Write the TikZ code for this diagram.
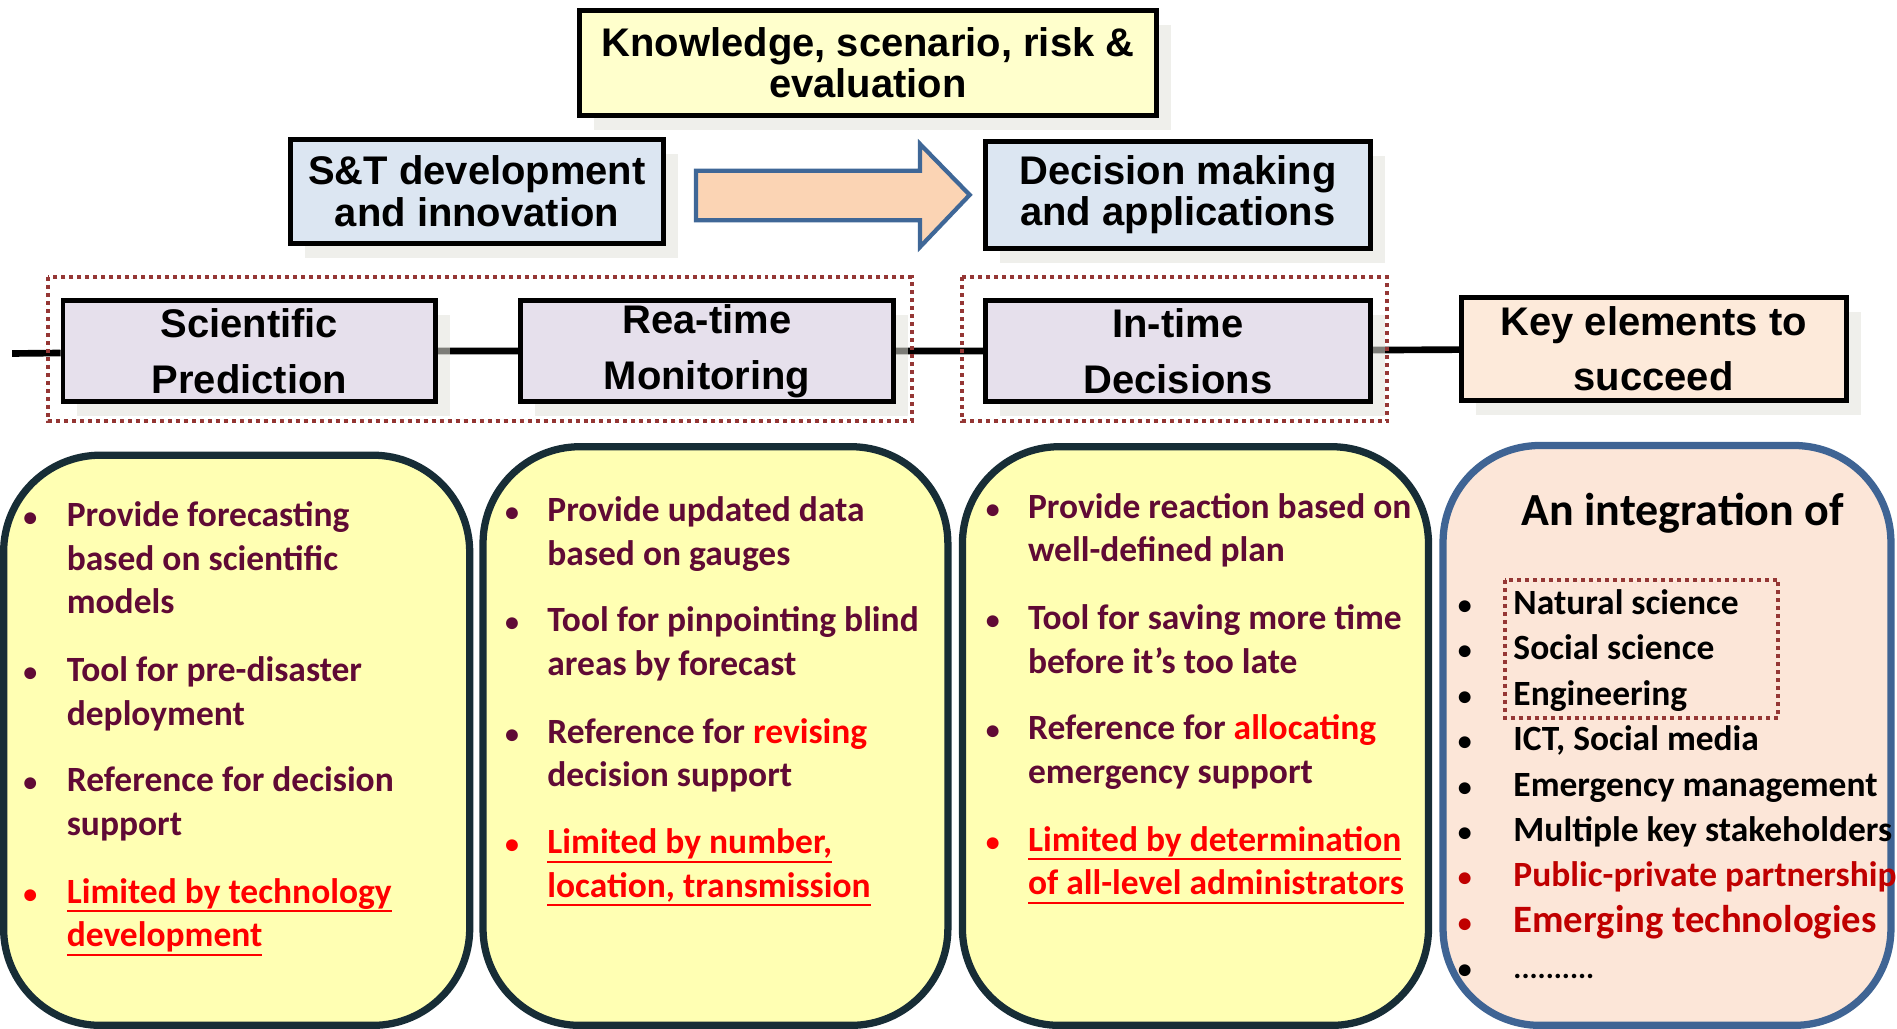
\documentclass[tikz,border=0pt]{standalone}
\usepackage{fontspec}
\setmainfont{Carlito}
\newfontfamily\headfont{Liberation Sans}
\usetikzlibrary{shadows,backgrounds}

\definecolor{knowfill}{HTML}{FFFFCC}
\definecolor{bluefill}{HTML}{DCE6F2}
\definecolor{procfill}{HTML}{E6E0EC}
\definecolor{keyfill}{HTML}{FDEADA}
\definecolor{arrowfill}{HTML}{FBD4B4}
\definecolor{arrowline}{HTML}{3F6797}
\definecolor{dotred}{HTML}{953735}
\definecolor{colfill}{HTML}{FFFFB3}
\definecolor{colline}{HTML}{172D36}
\definecolor{keycolfill}{HTML}{FCE6D8}
\definecolor{keycolline}{HTML}{3F6494}
\definecolor{maroon}{HTML}{600A35}
\definecolor{darkred}{HTML}{C00000}
\definecolor{shadowgray}{HTML}{E2E2DA}

\newcommand{\redunder}[1]{\setbox0\hbox{#1}\rlap{\rule[-7.5pt]{\wd0}{1.6pt}}\box0}
\newcommand{\itemlines}[1]{\begin{tabular}[t]{@{}l@{}}#1\end{tabular}}

\tikzset{
  headbox/.style={draw=black, line width=4pt, inner sep=0pt, align=center,
    font=\headfont\bfseries\fontsize{33}{34}\selectfont,
    drop shadow={shadow xshift=12pt, shadow yshift=-12pt, fill=shadowgray, opacity=0.55}},
  procbox/.style={headbox, fill=procfill, minimum height=84pt,
    font=\headfont\bfseries\fontsize{33}{46}\selectfont},
  colbox/.style={rounded corners=80pt, line width=6pt, inner sep=0pt},
  dotbox/.style={draw=dotred, line width=3.3pt, dash pattern=on 3.3pt off 3.3pt},
  bigarrow/.style={fill=arrowfill, draw=arrowline, line width=3.5pt, line join=miter},
  mainline/.style={black, line width=5.5pt},
  itemtext/.style={anchor=base west, inner sep=0pt, text=maroon,
    font=\bfseries\fontsize{29.3}{36}\selectfont},
  dot/.style={anchor=base, inner sep=0pt, text=maroon,
    font=\bfseries\fontsize{23}{36}\selectfont},
  keytext/.style={itemtext, text=black},
  keydot/.style={dot, text=black}
}

\begin{document}
\begin{tikzpicture}[x=1pt, y=-1pt]

\useasboundingbox (0,0) rectangle (1567,850);

% top row
\node[headbox, fill=knowfill, minimum width=476pt, minimum height=87pt] (know) at (717,52) {Knowledge, scenario, risk \&\\evaluation};
\node[headbox, fill=bluefill, minimum width=308pt, minimum height=86pt] (st) at (394,158) {S\&T development\\and innovation};
\node[headbox, fill=bluefill, minimum width=318pt, minimum height=88pt] (dm) at (973,161) {Decision making\\and applications};
\draw[bigarrow] (575,141) -- (760,141) -- (760,119) -- (801,161) -- (760,204) -- (760,182) -- (575,182) -- cycle;

% chain
\coordinate (lstart) at (10,292);
\node[procbox, minimum width=308pt] (sp) at (206,290) {Scientific\\Prediction};
\node[procbox, minimum width=308pt] (rt) at (584,290) {Rea-time\\Monitoring};
\node[procbox, minimum width=318pt] (it) at (973,290) {In-time\\Decisions};
\node[procbox, fill=keyfill, minimum width=318pt, minimum height=85pt] (key) at (1366,288) {Key elements to\\succeed};

\draw[dotbox] (40,229) rectangle (753,348);
\draw[dotbox] (795,229) rectangle (1146,348);

% columns
\node[colbox, draw=colline, fill=colfill, minimum width=385pt, minimum height=471pt] (col1) at (195.5,611.5) {};
\node[colbox, draw=colline, fill=colfill, minimum width=384pt, minimum height=478pt] (col2) at (591,608) {};
\node[colbox, draw=colline, fill=colfill, minimum width=385pt, minimum height=478pt] (col3) at (987.5,608) {};
\node[colbox, draw=keycolline, fill=keycolfill, minimum width=370pt, minimum height=479pt] (col4) at (1377,607.5) {};

% column 1
\node[dot] (d11) at (25,435) {•};
\node[itemtext] (t11) at (55,435) {\itemlines{Provide forecasting\\based on scientific\\models}};
\node[dot] (d12) at (25,563) {•};
\node[itemtext] (t12) at (55,563) {\itemlines{Tool for pre-disaster\\deployment}};
\node[dot] (d13) at (25,654) {•};
\node[itemtext] (t13) at (55,654) {\itemlines{Reference for decision\\support}};
\node[dot, text=red] (d14) at (25,746) {•};
\node[itemtext, text=red] (t14) at (55,746) {\itemlines{\redunder{Limited by technology}\\\redunder{development}}};

% column 2
\node[dot] (d21) at (423,431) {•};
\node[itemtext] (t21) at (452,431) {\itemlines{Provide updated data\\based on gauges}};
\node[dot] (d22) at (423,522) {•};
\node[itemtext] (t22) at (452,522) {\itemlines{Tool for pinpointing blind\\areas by forecast}};
\node[dot] (d23) at (423,614) {•};
\node[itemtext] (t23) at (452,614) {\itemlines{Reference for \textcolor{red}{revising}\\decision support}};
\node[dot, text=red] (d24) at (423,705) {•};
\node[itemtext, text=red] (t24) at (452,705) {\itemlines{\redunder{Limited by number,}\\\redunder{location, transmission}}};

% column 3
\node[dot] (d31) at (820,428) {•};
\node[itemtext] (t31) at (849,428) {\itemlines{Provide reaction based on\\well-defined plan}};
\node[dot] (d32) at (820,520) {•};
\node[itemtext] (t32) at (849,520) {\itemlines{Tool for saving more time\\before it’s too late}};
\node[dot] (d33) at (820,611) {•};
\node[itemtext] (t33) at (849,611) {\itemlines{Reference for \textcolor{red}{allocating}\\emergency support}};
\node[dot, text=red] (d34) at (820,703) {•};
\node[itemtext, text=red] (t34) at (849,703) {\itemlines{\redunder{Limited by determination}\\\redunder{of all-level administrators}}};

% column 4
\node[anchor=base, inner sep=0pt, font=\bfseries\fontsize{38}{40}\selectfont] (integ) at (1390,434) {An integration of};
\node[keydot] (d41) at (1210,508) {•};
\node[keytext] (t41) at (1250,508) {Natural science};
\node[keydot] (d42) at (1210,545) {•};
\node[keytext] (t42) at (1250,545) {Social science};
\node[keydot] (d43) at (1210,583) {•};
\node[keytext] (t43) at (1250,583) {Engineering};
\node[keydot] (d44) at (1210,620) {•};
\node[keytext] (t44) at (1250,620) {ICT, Social media};
\node[keydot] (d45) at (1210,658) {•};
\node[keytext] (t45) at (1250,658) {Emergency management};
\node[keydot] (d46) at (1210,695) {•};
\node[keytext] (t46) at (1250,695) {Multiple key stakeholders};
\node[keydot, text=darkred] (d47) at (1210,732) {•};
\node[keytext, text=darkred] (t47) at (1250,732) {Public-private partnership};
\node[keydot, text=darkred] (d48) at (1210,770) {•};
\node[keytext, text=darkred, font=\bfseries\fontsize{32}{36}\selectfont] (t48) at (1250,770) {Emerging technologies};
\node[keydot] (d49) at (1210,808) {•};
\node[keytext, font=\bfseries\fontsize{25}{30}\selectfont] (t49) at (1250,808) {..........};
\draw[dotbox] (1243,479) rectangle (1469,593);

\begin{scope}[on background layer]
\draw[mainline] (lstart) -- (sp) -- (rt) -- (it) -- (key);
\end{scope}

\end{tikzpicture}
\end{document}
